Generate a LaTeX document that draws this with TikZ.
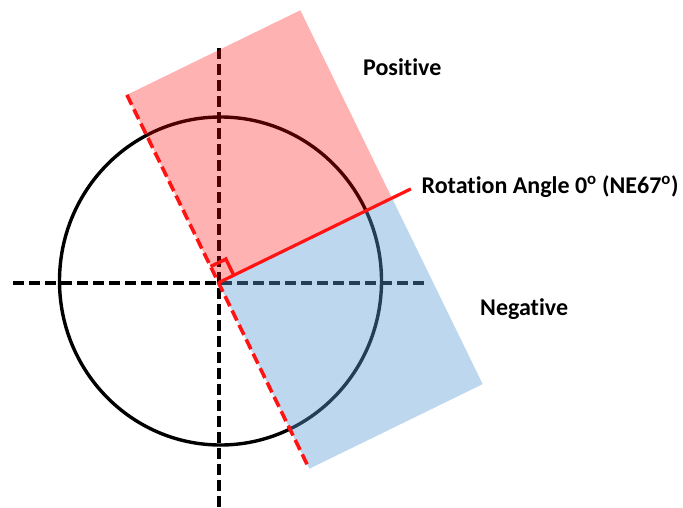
\documentclass[tikz,border=0pt]{standalone}
\usepackage{fontspec}
\setmainfont{Carlito}[Ligatures=NoCommon]
\usetikzlibrary{calc,shapes.geometric}
\definecolor{pinkred}{RGB}{255,0,0}
\definecolor{officeblue}{RGB}{91,155,213}
\definecolor{linered}{RGB}{255,20,20}
\tikzset{
  axis/.style={line width=3.4pt, black, dash pattern=on 11pt off 5pt},
  ring/.style={line width=3.4pt, black},
  posfill/.style={fill=pinkred, fill opacity=0.3, draw=none},
  negfill/.style={fill=officeblue, fill opacity=0.4, draw=none},
  refdash/.style={line width=3.6pt, linered, dash pattern=on 11pt off 5pt},
  refline/.style={line width=3.2pt, linered},
  lbl/.style={font=\fontsize{24}{28}\selectfont\bfseries, anchor=base west, inner sep=0pt}
}
\begin{document}
\begin{tikzpicture}[x=1pt,y=1pt]
\useasboundingbox (0,0) rectangle (683,507);
% axes
\coordinate (hl) at (13,224);
\coordinate (hr) at (428,224);
\coordinate (vt) at (219,459);
\coordinate (vb) at (219,0);
\draw[axis] (hl) -- (hr);
\draw[axis] (vt) -- (vb);
% circle
\node[ring, ellipse, draw, minimum width=322pt, minimum height=328pt, inner sep=0pt] (circ) at (220.5,226) {};
% centre
\coordinate (C) at (218.5,224.3);
\coordinate (A) at ($(C)+(26:193)$);
\coordinate (P) at ($(C)+(116:209)$);
\coordinate (PA) at ($(C)+(26:193)+(116:209)$);
\coordinate (N) at ($(C)+(296:207)$);
\coordinate (NA) at ($(C)+(26:193)+(296:207)$);
\coordinate (R) at ($(C)+(26:214)$);
% fills
\fill[posfill] (C) -- (A) -- (PA) -- (P) -- cycle;
\fill[negfill] (C) -- (A) -- (NA) -- (N) -- cycle;
% red lines
\draw[refdash] (P) -- (N);
\draw[refline] (C) -- (R);
% right-angle mark
\coordinate (m1) at ($(C)+(26:17)$);
\coordinate (m2) at ($(C)+(26:17)+(116:18)$);
\coordinate (m3) at ($(C)+(116:18)$);
\draw[refline, line width=3.4pt] (m1) -- (m2) -- (m3);
% labels
\node[lbl] (pos) at (363,431) {Positive};
\node[lbl] (rot) at (421.5,313) {Rotation Angle 0\textsuperscript{o} (NE67\textsuperscript{o})};
\node[lbl] (neg) at (480,191.3) {Negative};
\end{tikzpicture}
\end{document}
